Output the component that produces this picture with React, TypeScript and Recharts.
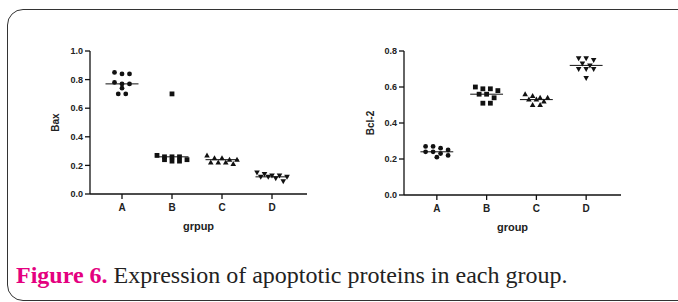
import React from 'react';
import { ScatterChart, Scatter, XAxis, YAxis, ReferenceLine } from 'recharts';

// groups on the x axis
const groups = ['A', 'B', 'C', 'D'];
const markerKinds = ['circle', 'square', 'triangle', 'triangleDown'];

// Bax expression (left panel)
const baxA = [0.85, 0.84, 0.84, 0.78, 0.77, 0.77, 0.74, 0.70, 0.70];
const baxB = [0.70, 0.27, 0.26, 0.26, 0.26, 0.24, 0.24, 0.23, 0.23];
const baxC = [0.27, 0.25, 0.25, 0.24, 0.24, 0.22, 0.22, 0.22, 0.21];
const baxD = [0.15, 0.14, 0.13, 0.13, 0.12, 0.12, 0.12, 0.11, 0.09];

// Bcl-2 expression (right panel)
const bclA = [0.27, 0.27, 0.26, 0.25, 0.24, 0.24, 0.23, 0.22, 0.21];
const bclB = [0.60, 0.59, 0.59, 0.58, 0.56, 0.56, 0.54, 0.51, 0.51];
const bclC = [0.56, 0.55, 0.54, 0.54, 0.53, 0.53, 0.52, 0.50, 0.50];
const bclD = [0.76, 0.76, 0.75, 0.73, 0.72, 0.70, 0.70, 0.70, 0.65];

const baxTicks = [0, 0.2, 0.4, 0.6, 0.8, 1.0];
const bclTicks = [0, 0.2, 0.4, 0.6, 0.8];

const median = (vals: number[]) => {
  const s = [...vals].sort((a, b) => a - b);
  const m = Math.floor(s.length / 2);
  return s.length % 2 ? s[m] : (s[m - 1] + s[m]) / 2;
};

// simple beeswarm: points close in pixel height share a row and spread sideways
const swarm = (vals: number[], pxPerUnit: number) => {
  const order = vals.map((_, i) => i).sort((a, b) => vals[b] - vals[a]);
  const dx = new Array(vals.length).fill(0);
  let row: number[] = [];
  const flush = () => {
    row.forEach((k, j) => (dx[k] = (j - (row.length - 1) / 2) * 7.5));
    row = [];
  };
  for (const k of order) {
    if (row.length && ((vals[row[0]] - vals[k]) * pxPerUnit > 4.5 || row.length >= 5)) flush();
    row.push(k);
  }
  flush();
  return dx;
};

const buildRows = (vals: number[], gi: number, pxPerUnit: number) => {
  const dx = swarm(vals, pxPerUnit);
  return vals.map((v, i) => ({ x: gi + 1, y: v, dx: dx[i], kind: markerKinds[gi] }));
};

const Marker = (props: any) => {
  const { cx, cy, payload } = props;
  if (cx == null || cy == null) return null;
  const x = cx + (payload.dx || 0);
  const y = cy;
  const c = '#111';
  if (payload.kind === 'circle') return <circle cx={x} cy={y} r={2.4} fill={c} />;
  if (payload.kind === 'square') return <rect x={x - 2.4} y={y - 2.4} width={4.8} height={4.8} fill={c} />;
  if (payload.kind === 'triangle')
    return <path d={`M${x},${y - 3} L${x + 2.8},${y + 2} L${x - 2.8},${y + 2} Z`} fill={c} />;
  return <path d={`M${x},${y + 3} L${x + 2.8},${y - 2} L${x - 2.8},${y - 2} Z`} fill={c} />;
};

const axisText = { fontFamily: 'Liberation Sans, Arial, sans-serif', fontWeight: 700, fill: '#222' };

interface PanelProps {
  series: number[][];
  ticks: number[];
  yLabel: string;
  xLabel: string;
  xStart: number;
  pxPerUnit: number;
  labelOffset: number;
  marginBottom: number;
}

const Panel: React.FC<PanelProps> = ({ series, ticks, yLabel, xLabel, xStart, pxPerUnit, labelOffset, marginBottom }) => {
  const yMax = ticks[ticks.length - 1];
  return (
    <ScatterChart width={320} height={250} margin={{ top: 51, right: 13, left: 40, bottom: marginBottom }}>
      <XAxis
        type="number"
        dataKey="x"
        domain={[xStart, 4.7]}
        ticks={[1, 2, 3, 4]}
        tickFormatter={(v: number) => groups[v - 1]}
        allowDataOverflow
        height={40}
        stroke="#111"
        strokeWidth={1.3}
        tickSize={5}
        tickMargin={5}
        tick={{ ...axisText, fontSize: 10 }}
        label={{ value: xLabel, position: 'insideBottom', offset: 4, style: { ...axisText, fontSize: 11 } }}
      />
      <YAxis
        type="number"
        dataKey="y"
        domain={[0, yMax]}
        ticks={ticks}
        tickFormatter={(v: number) => v.toFixed(1)}
        width={50}
        stroke="#111"
        strokeWidth={1.3}
        tickSize={5}
        tickMargin={2}
        tick={{ ...axisText, fontSize: 9 }}
        label={{
          value: yLabel,
          angle: -90,
          position: 'insideLeft',
          offset: labelOffset,
          style: { ...axisText, fontSize: 10, textAnchor: 'middle' },
        }}
      />
      {series.map((vals, gi) => (
        <Scatter
          key={groups[gi]}
          data={buildRows(vals, gi, pxPerUnit)}
          shape={<Marker />}
          isAnimationActive={false}
        />
      ))}
      {series.map((vals, gi) => (
        <ReferenceLine
          key={'m' + groups[gi]}
          segment={[
            { x: gi + 1 - 0.33, y: median(vals) },
            { x: gi + 1 + 0.33, y: median(vals) },
          ]}
          stroke="#111"
          strokeWidth={1}
        />
      ))}
    </ScatterChart>
  );
};

export default function App() {
  return (
    <div style={{ position: 'absolute', left: 0, top: 0, width: 678, height: 302, overflow: 'hidden', background: '#fff' }}>
      <div
        style={{
          position: 'absolute',
          left: 7,
          top: 9,
          width: 700,
          height: 290,
          border: '1px solid #333',
          borderRadius: 16,
        }}
      />
      <div style={{ position: 'absolute', left: 0, top: 0 }}>
        <Panel
          series={[baxA, baxB, baxC, baxD]}
          ticks={baxTicks}
          yLabel="Bax"
          xLabel="grpup"
          xStart={0.36}
          pxPerUnit={143}
          labelOffset={15}
          marginBottom={16}
        />
      </div>
      <div style={{ position: 'absolute', left: 314, top: 0 }}>
        <Panel
          series={[bclA, bclB, bclC, bclD]}
          ticks={bclTicks}
          yLabel="Bcl-2"
          xLabel="group"
          xStart={0.34}
          pxPerUnit={180}
          labelOffset={16}
          marginBottom={15}
        />
      </div>
      <div
        style={{
          position: 'absolute',
          left: 16,
          top: 263,
          fontFamily: 'Liberation Serif, Times New Roman, serif',
          fontSize: 24,
          lineHeight: '24px',
          color: '#222',
          whiteSpace: 'nowrap',
        }}
      >
        <span style={{ color: '#e4007f', fontWeight: 700 }}>Figure 6.</span> Expression of apoptotic proteins in each group.
      </div>
    </div>
  );
}
